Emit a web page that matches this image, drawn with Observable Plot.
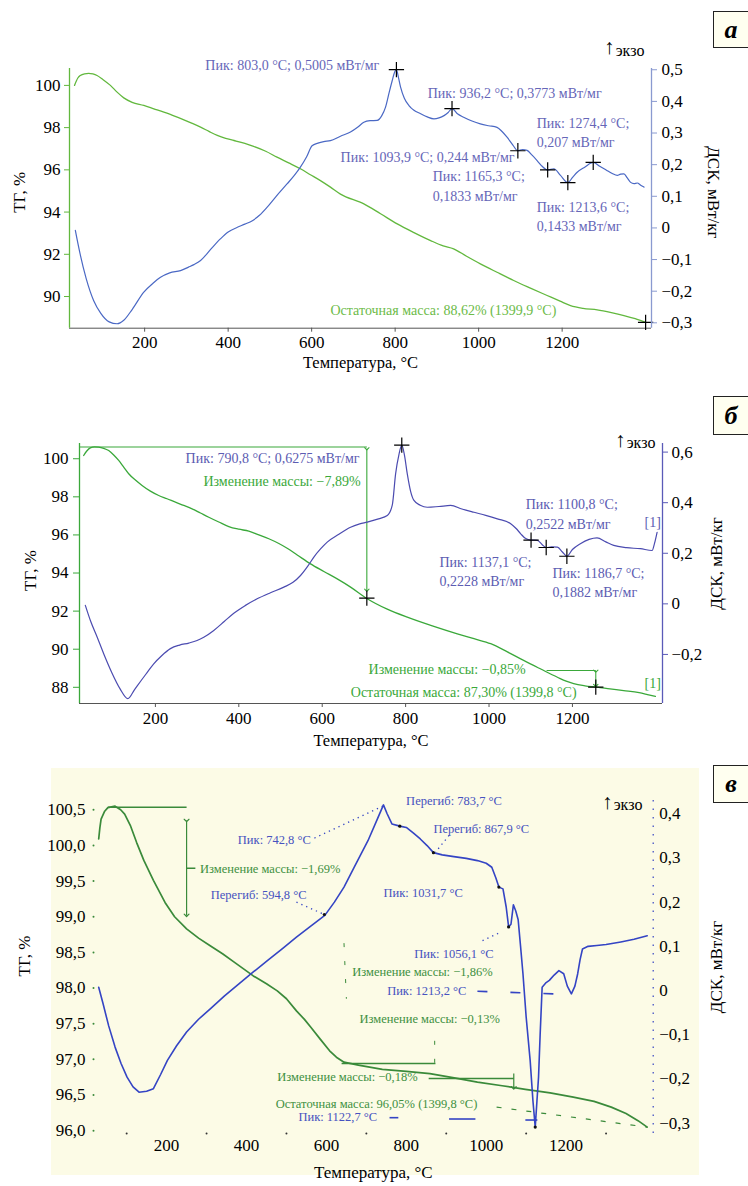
<!DOCTYPE html>
<html><head><meta charset="utf-8">
<script src="https://cdn.jsdelivr.net/npm/d3@7"></script>
<script src="https://cdn.jsdelivr.net/npm/@observablehq/plot@0.6"></script>
<style>
body{margin:0;background:#fff;}
#root{position:relative;width:748px;height:1186px;overflow:hidden;font-family:"Liberation Serif",serif;}
.box{position:absolute;border:1.3px solid #222;background:#fffff0;font:italic bold 26px "Liberation Serif",serif;display:flex;align-items:center;justify-content:center;box-sizing:border-box;padding-right:4px;}
.cream{position:absolute;background:#fcfbe6;}
</style></head><body><div id="root"></div>
<script>
// ---------- shared ticks ----------
const xTicks = [200, 400, 600, 800, 1000, 1200];
const xMinorC = [100, 300, 500, 700, 900, 1100, 1300];

// ---------- panel a ----------
const tgTA = [32,40,46,56,66,76,86,100,118,134,150,170,198,222,246,270,294,314,334,354,374,394,414,440,461,490,517,545,573,597,621,645,669,725,765,805,845,885,915,940,970,1004,1044,1084,1124,1164,1195,1220,1250,1284,1318,1348,1375,1399.9];
const tgVA = [100.0,100.35,100.47,100.55,100.57,100.54,100.47,100.28,100.0,99.68,99.41,99.2,99.05,98.89,98.73,98.56,98.37,98.2,98.02,97.82,97.63,97.49,97.39,97.25,97.11,96.88,96.6,96.33,96.05,95.77,95.49,95.18,94.85,94.39,93.92,93.44,93.03,92.65,92.4,92.26,91.92,91.55,91.15,90.76,90.4,90.05,89.78,89.57,89.44,89.37,89.24,89.1,88.95,88.78];
const dscTA = [34,45,60,78,95,115,134,150,170,198,220,238,260,286,305,318,334,358,382,400,422,440,458,475,493,515,541,558,573,588,601,615,629,645,669,693,710,725,740,757,768,777,786,793,798,803,808,813,822,833,845,861,877,893,905,917,927,936.2,950,964,984,1004,1024,1044,1056,1068,1082,1093.9,1105,1116,1128,1140,1152,1165.3,1180,1196,1213.6,1225,1236,1254,1274.4,1290,1308,1320,1332,1340,1348,1356,1364,1372,1380,1388,1396];
const dscVA = [-0.008,-0.08,-0.16,-0.23,-0.27,-0.297,-0.303,-0.292,-0.258,-0.203,-0.175,-0.156,-0.142,-0.135,-0.124,-0.116,-0.103,-0.068,-0.034,-0.013,0.002,0.012,0.023,0.04,0.065,0.1,0.139,0.165,0.192,0.225,0.26,0.268,0.273,0.276,0.29,0.303,0.318,0.334,0.339,0.34,0.355,0.382,0.43,0.466,0.49,0.5005,0.475,0.445,0.41,0.387,0.372,0.361,0.351,0.345,0.348,0.355,0.365,0.3773,0.36,0.35,0.338,0.329,0.323,0.318,0.305,0.287,0.262,0.244,0.248,0.245,0.23,0.213,0.195,0.1833,0.187,0.166,0.1433,0.16,0.176,0.192,0.207,0.195,0.181,0.172,0.166,0.17,0.171,0.158,0.144,0.14,0.142,0.135,0.129];
const peakTA = [803.0, 936.2, 1093.9, 1165.3, 1213.6, 1274.4];
const peakVA = [0.5005, 0.3773, 0.244, 0.1833, 0.1433, 0.207];
const tgTicksA = [90, 92, 94, 96, 98, 100];
const dscTicksA = [-0.3, -0.2, -0.1, 0, 0.1, 0.2, 0.3, 0.4, 0.5];

// ---------- panel б ----------
const tgTB = [28,36,44,54,64,76,88,100,112,124,136,152,168,188,208,228,248,268,288,308,328,352,376,400,424,448,472,496,516,540,572,604,636,668,708,756,804,864,924,964,1004,1044,1083,1124,1164,1185,1203,1230,1259,1290,1323,1360,1380,1399];
const tgVB = [100.17,100.42,100.57,100.62,100.61,100.55,100.43,100.2,99.91,99.56,99.21,98.88,98.6,98.3,98.07,97.9,97.72,97.55,97.37,97.15,96.93,96.68,96.44,96.3,96.2,96.0,95.8,95.55,95.3,94.95,94.48,94.08,93.69,93.26,92.65,92.1,91.68,91.23,90.81,90.55,90.29,89.86,89.41,88.96,88.53,88.32,88.19,88.08,88.01,87.92,87.83,87.72,87.62,87.52];
const dscTB = [32,45,60,76,95,115,134,150,165,180,196,215,236,258,280,300,316,340,365,388,415,444,476,508,530,548,565,580,596,612,640,668,690,708,735,756,768,776,784,790.8,797,804,812,820,835,852,880,908,935,964,992,1020,1052,1065,1076,1088,1100.8,1116,1127,1137.1,1150,1164,1176,1186.7,1200,1219,1240,1259,1280,1299,1330,1363,1391,1397,1403];
const dscVB = [-0.006,-0.07,-0.13,-0.197,-0.27,-0.335,-0.375,-0.339,-0.305,-0.272,-0.237,-0.205,-0.177,-0.163,-0.155,-0.145,-0.132,-0.105,-0.07,-0.037,-0.007,0.02,0.044,0.066,0.085,0.112,0.148,0.185,0.217,0.244,0.275,0.303,0.316,0.323,0.336,0.349,0.39,0.514,0.59,0.6275,0.59,0.514,0.445,0.409,0.39,0.382,0.385,0.389,0.375,0.362,0.35,0.336,0.317,0.298,0.277,0.258,0.2522,0.251,0.235,0.2228,0.225,0.224,0.205,0.1882,0.215,0.238,0.255,0.261,0.245,0.231,0.222,0.218,0.211,0.24,0.283];
const peakTB = [790.8, 1100.8, 1137.1, 1186.7];
const peakVB = [0.6275, 0.2522, 0.2228, 0.1882];
const tgMarkTB = [707, 1256];
const tgMarkVB = [92.68, 88.01];
const tgTicksB = [88, 90, 92, 94, 96, 98, 100];
const dscTicksB = [-0.2, 0, 0.2, 0.4, 0.6];

// ---------- panel в ----------
const tgTC = [30,33,36,45,53,71,85,95,110,125,143,167,196,220,250,280,310,340,370,417,450,477,500,525,545,561,585,608,625,644,680,740,800,859,920,978,1040,1098,1160,1218,1270,1313,1350,1380,1403];
const tgVC = [100.09,100.25,100.37,100.48,100.53,100.55,100.5,100.44,100.27,100.04,99.79,99.51,99.2,99.0,98.83,98.7,98.59,98.48,98.36,98.17,98.06,97.96,97.85,97.68,97.56,97.45,97.28,97.12,97.03,96.96,96.92,96.86,96.83,96.8,96.74,96.68,96.63,96.58,96.53,96.47,96.41,96.33,96.24,96.14,96.05];
const dscTC = [30,41,55,71,86,101,116,131,150,167,185,202,225,250,280,310,345,381,417,453,490,525,560,596,620,644,670,704,728,742.8,752,764,783.7,800,818,835,852,867.9,890,919,950,978,1000,1014,1024,1031.7,1042,1050,1056.1,1062,1068,1074,1080,1086,1092,1100,1110,1117,1122.7,1127,1131,1135,1140,1150,1158,1170,1182,1194,1203,1213.2,1222,1229,1235,1241,1255,1277,1300,1337,1370,1403];
const dscVC = [0.0075,-0.03,-0.08,-0.128,-0.165,-0.196,-0.218,-0.23,-0.228,-0.222,-0.19,-0.158,-0.125,-0.094,-0.065,-0.041,-0.012,0.015,0.042,0.068,0.095,0.121,0.145,0.17,0.2,0.234,0.28,0.339,0.389,0.42,0.4,0.377,0.372,0.369,0.356,0.343,0.328,0.312,0.307,0.303,0.299,0.294,0.288,0.279,0.255,0.234,0.23,0.189,0.144,0.15,0.194,0.18,0.16,0.1,0.038,-0.06,-0.158,-0.25,-0.309,-0.25,-0.196,-0.1,0.0075,0.018,0.023,0.035,0.045,0.038,0.01,-0.0075,0.01,0.038,0.07,0.094,0.1,0.102,0.104,0.11,0.116,0.124];
const markTC = [594.8, 783.7, 867.9, 1031.7, 1056.1, 1122.7];
const markVC = [0.172, 0.372, 0.312, 0.234, 0.144, -0.309];
const tgTicksC = [96.0, 96.5, 97.0, 97.5, 98.0, 98.5, 99.0, 99.5, 100.0, 100.5];
const dscTicksC = [-0.3, -0.2, -0.1, 0, 0.1, 0.2, 0.3, 0.4];

// ---------- helpers ----------
const SERIF = "'Liberation Serif','DejaVu Serif',serif";
const loc = d3.formatLocale({decimal: ",", thousands: "\u00a0", grouping: [3], currency: ["", ""], minus: "\u2212"});
const f1 = loc.format(".1f");
const fDsc = d => Math.abs(d) < 1e-9 ? "0" : f1(d);
const fInt = d3.format("d");
const root = document.getElementById("root");
function place(el, top) { el.style.position = "absolute"; el.style.left = "0px"; el.style.top = top + "px"; root.appendChild(el); }
function pts(T, V) { return T.map((t, i) => ({t, v: V[i]})); }
function texts(arr, fill, fontSize) {
  return ["start", "end"].map(a => Plot.text(arr.filter(d => (d.a || "start") === a),
    {x: "x", y: "y", text: "t", textAnchor: a, fill, fontSize}));
}
function title(str, opts) {
  return Plot.text([str], {text: d => d, textAnchor: "middle", fill: "black", fontSize: 17, ...opts});
}
function exo(x, y) {
  return [
    Plot.text([{x, y}], {x: "x", y: "y", text: () => "экзо", textAnchor: "end", fill: "black", fontSize: 16}),
    Plot.text([{x, y}], {x: "x", y: "y", text: () => "↑", textAnchor: "end", fill: "black", fontSize: 21, dx: -30, dy: -3, fontWeight: 300})
  ];
}
function box(letter, top, h) {
  const b = document.createElement("div"); b.className = "box"; b.textContent = letter;
  b.style.left = "713px"; b.style.top = top + "px"; b.style.width = "40px"; b.style.height = h + "px";
  root.appendChild(b);
}
function common(h, ml, mr, mt, mb) {
  return {width: 748, height: h, marginLeft: ml, marginRight: mr, marginTop: mt, marginBottom: mb,
    style: {background: "transparent", fontFamily: SERIF, fontSize: "17px", overflow: "visible", color: "black"}};
}
const TEMP = "Температура, °C";

// =============== PANEL A ===============
{
  const xD = [20, 1414], tgD = [88.5, 100.8], dD = [-0.317, 0.504];
  const G = "#62b83e", B = "#4a68c4", TB = "#6666b8", TG = "#6cbb48", RA = "#8a9ad0";
  const c = common(380, 69, 97, 68, 52.3);
  const tg = Plot.plot({...c, x: {domain: xD, label: null}, y: {domain: tgD, label: null}, marks: [
    Plot.ruleY([tgD[0]], {stroke: "#555"}),
    Plot.ruleX([xD[0]], {stroke: G, strokeWidth: 1.3}),
    Plot.axisX(xTicks, {tickSize: 4, tickPadding: 4, tickFormat: fInt, fontSize: 17, label: null, stroke: "#555", color: "black"}),
    Plot.axisY(tgTicksA, {tickSize: 5, tickPadding: 4, tickFormat: fInt, fontSize: 17, label: null, stroke: G, color: "black"}),
    Plot.line(pts(tgTA, tgVA), {x: "t", y: "v", stroke: G, strokeWidth: 1.3, curve: "monotone-x"}),
    Plot.dot([{t: 1399.9, v: 88.78}], {x: "t", y: "v", symbol: "plus", r: 5, stroke: "black", strokeWidth: 1.2}),
    ...texts([{t: "Остаточная масса: 88,62% (1399,9 °C)", x: 1186, y: 89.34, a: "end"}], TG, 14),
    title(TEMP, {frameAnchor: "bottom", dy: 40, fontSize: 16.5}),
    title("ТГ, %", {frameAnchor: "left", dx: -50, dy: -6, rotate: -90})
  ]});
  const ds = Plot.plot({...c, x: {domain: xD, axis: null}, y: {domain: dD, label: null}, marks: [
    Plot.ruleX([xD[1]], {stroke: RA, strokeWidth: 1.3}),
    Plot.axisY(dscTicksA, {anchor: "right", tickSize: 5, tickPadding: 5, tickFormat: fDsc, fontSize: 17, label: null, stroke: RA, color: "black"}),
    Plot.line(pts(dscTA, dscVA), {x: "t", y: "v", stroke: B, strokeWidth: 1.2, curve: "monotone-x"}),
    Plot.dot(pts(peakTA, peakVA), {x: "t", y: "v", symbol: "plus", r: 5, stroke: "black", strokeWidth: 1.2}),
    ...texts([
      {t: "Пик: 803,0 °C; 0,5005 мВт/мг", x: 762, y: 0.513, a: "end"},
      {t: "Пик: 936,2 °C; 0,3773 мВт/мг", x: 878, y: 0.425},
      {t: "Пик: 1274,4 °C;", x: 1139, y: 0.330},
      {t: "0,207 мВт/мг", x: 1139, y: 0.270},
      {t: "Пик: 1093,9 °C; 0,244 мВт/мг", x: 1086, y: 0.2226, a: "end"},
      {t: "Пик: 1165,3 °C;", x: 890, y: 0.1625},
      {t: "0,1833 мВт/мг", x: 890, y: 0.0993},
      {t: "Пик: 1213,6 °C;", x: 1139, y: 0.0645},
      {t: "0,1433 мВт/мг", x: 1139, y: 0.0044}
    ], TB, 14),
    ...exo(1397, 0.561),
    title("ДСК, мВт/кг", {frameAnchor: "right", dx: 62, dy: -6, rotate: 90})
  ]});
  place(tg, 0); place(ds, 0);
  box("а", 11, 37);
}

// =============== PANEL Б ===============
{
  const xD = [18, 1416], tgD = [87.15, 100.8], dD = [-0.394, 0.634];
  const G = "#3aa83a", B = "#4b4bb0", TB = "#5c5cb2", TG = "#3aa83a", RA = "#5a5ab8";
  const c = common(370, 79, 86, 53, 57);
  const tg = Plot.plot({...c, x: {domain: xD, label: null}, y: {domain: tgD, label: null}, marks: [
    Plot.ruleY([tgD[0]], {stroke: "#555"}),
    Plot.ruleX([xD[0]], {stroke: G, strokeWidth: 1.3}),
    Plot.axisX(xTicks, {tickSize: 4, tickPadding: 4, tickFormat: fInt, fontSize: 17, label: null, stroke: "#555", color: "black"}),
    Plot.axisY(tgTicksB, {tickSize: 6, tickPadding: 5, tickFormat: fInt, fontSize: 17, label: null, stroke: G, color: "black"}),
    Plot.line(pts(tgTB, tgVB), {x: "t", y: "v", stroke: G, strokeWidth: 1.3, curve: "monotone-x"}),
    Plot.link([{x1: xD[0], x2: 707, y: 100.62}, {x1: 1138, x2: 1256, y: 88.88}], {x1: "x1", x2: "x2", y1: "y", y2: "y", stroke: G, strokeWidth: 1.1}),
    Plot.link([{x: 707, y1: 100.52, y2: 93.1}, {x: 1256, y1: 88.85, y2: 88.1}], {x1: "x", x2: "x", y1: "y1", y2: "y2", stroke: G, strokeWidth: 1.1, markerStart: "arrow", markerEnd: "arrow"}),
    Plot.dot(pts(tgMarkTB, tgMarkVB), {x: "t", y: "v", symbol: "plus", r: 5, stroke: "black", strokeWidth: 1.2}),
    ...texts([
      {t: "Изменение массы: −7,89%", x: 692, y: 98.82, a: "end"},
      {t: "Изменение массы: −0,85%", x: 1088, y: 88.92, a: "end"},
      {t: "Остаточная масса: 87,30% (1399,8 °C)", x: 1210, y: 87.74, a: "end"},
      {t: "[1]", x: 1373, y: 88.19}
    ], TG, 14),
    title(TEMP, {frameAnchor: "bottom", dy: 42, fontSize: 16.5}),
    title("ТГ, %", {frameAnchor: "left", dx: -49, dy: -3, rotate: -90})
  ]});
  const ds = Plot.plot({...c, x: {domain: xD, axis: null}, y: {domain: dD, label: null}, marks: [
    Plot.ruleX([xD[1]], {stroke: RA, strokeWidth: 1.3}),
    Plot.axisY(dscTicksB, {anchor: "right", tickSize: 5, tickPadding: 4, tickFormat: fDsc, fontSize: 17, label: null, stroke: RA, color: "black"}),
    Plot.line(pts(dscTB, dscVB), {x: "t", y: "v", stroke: B, strokeWidth: 1.2, curve: "monotone-x"}),
    Plot.dot(pts(peakTB, peakVB), {x: "t", y: "v", symbol: "plus", r: 5, stroke: "black", strokeWidth: 1.2}),
    ...texts([
      {t: "Пик: 790,8 °C; 0,6275 мВт/мг", x: 689.5, y: 0.574, a: "end"},
      {t: "Пик: 1100,8 °C;", x: 1088, y: 0.392},
      {t: "0,2522 мВт/мг", x: 1088, y: 0.314},
      {t: "[1]", x: 1373, y: 0.323},
      {t: "Пик: 1137,1 °C;", x: 881, y: 0.165},
      {t: "0,2228 мВт/мг", x: 881, y: 0.090},
      {t: "Пик: 1186,7 °C;", x: 1152, y: 0.119},
      {t: "0,1882 мВт/мг", x: 1152, y: 0.044}
    ], TB, 14),
    ...exo(1399, 0.635),
    title("ДСК, мВт/кг", {frameAnchor: "right", dx: 54, dy: -10, rotate: -90})
  ]});
  place(tg, 390); place(ds, 390);
  box("б", 396, 39);
}

// =============== PANEL В ===============
{
  const cream = document.createElement("div"); cream.className = "cream";
  cream.style.left = "51px"; cream.style.top = "768px"; cream.style.width = "648px"; cream.style.height = "407px";
  root.appendChild(cream);
  const xD = [17, 1418], tgD = [95.96, 100.63], dD = [-0.3235, 0.43];
  const G = "#3a8a3a", B = "#3444c4", TB = "#4652c0", TG = "#40903f";
  const c = common(426, 93, 95.3, 40, 53);
  const tg = Plot.plot({...c, x: {domain: xD, label: null}, y: {domain: tgD, label: null}, marks: [
    Plot.axisX(xTicks, {tickSize: 0, tickPadding: 5, tickFormat: fInt, fontSize: 17, label: null, color: "black"}),
    Plot.dot(xMinorC, {x: d => d, y: () => tgD[0], r: 1, fill: "#333", stroke: null}),
    Plot.axisY(tgTicksC, {tickSize: 0, tickPadding: 8, tickFormat: f1, fontSize: 17, label: null, color: "black"}),
    Plot.dot(tgTicksC, {x: () => xD[0], y: d => d, r: 1, fill: G, stroke: null}),
    Plot.line(pts(tgTC, tgVC), {x: "t", y: "v", stroke: G, strokeWidth: 1.7}),
    Plot.link([{x1: 53, x2: 250, y1: 100.536, y2: 100.536}, {x1: 250, x2: 272, y1: 99.68, y2: 99.68},
               {x1: 638, x2: 873, y1: 96.94, y2: 96.94}, {x1: 856, x2: 1069, y1: 96.73, y2: 96.73}],
      {x1: "x1", x2: "x2", y1: "y1", y2: "y2", stroke: G, strokeWidth: 1.5}),
    Plot.link([{x: 250, y1: 100.35, y2: 99.02}], {x1: "x", x2: "x", y1: "y1", y2: "y2", stroke: G, strokeWidth: 1.2, markerStart: "arrow", markerEnd: "arrow"}),
    Plot.link([{x: 1069, y1: 96.8, y2: 96.6}], {x1: "x", x2: "x", y1: "y1", y2: "y2", stroke: G, strokeWidth: 1.2, markerEnd: "arrow"}),
    Plot.link([{x1: 871, x2: 871, y1: 97.26, y2: 96.95}, {x1: 644, x2: 650, y1: 98.63, y2: 97.85}],
      {x1: "x1", x2: "x2", y1: "y1", y2: "y2", stroke: G, strokeWidth: 1, strokeDasharray: "4,14"}),
    Plot.link([{x1: 1026, x2: 1403, y1: 96.33, y2: 96.05}], {x1: "x1", x2: "x2", y1: "y1", y2: "y2", stroke: G, strokeWidth: 1.2, strokeDasharray: "5,10"}),
    ...texts([
      {t: "Изменение массы: −1,69%", x: 283.6, y: 99.67},
      {t: "Изменение массы: −1,86%", x: 664.6, y: 98.23},
      {t: "Изменение массы: −0,13%", x: 683, y: 97.56},
      {t: "Изменение массы: −0,18%", x: 477, y: 96.75},
      {t: "Остаточная масса: 96,05% (1399,8 °C)", x: 473, y: 96.37}
    ], TG, 12.5),
    title(TEMP, {frameAnchor: "bottom", dy: 44}),
    title("ТГ, %", {frameAnchor: "left", dx: -69, dy: -11, rotate: -90})
  ]});
  const ds = Plot.plot({...c, x: {domain: xD, axis: null}, y: {domain: dD, label: null}, marks: [
    Plot.ruleX([xD[1]], {stroke: B, strokeWidth: 1.2, strokeDasharray: "1.5,7"}),
    Plot.axisY(dscTicksC, {anchor: "right", tickSize: 0, tickPadding: 6, tickFormat: fDsc, fontSize: 17, label: null, color: "black"}),
    Plot.line(pts(dscTC, dscVC), {x: "t", y: "v", stroke: B, strokeWidth: 1.6}),
    Plot.dot(pts(markTC, markVC), {x: "t", y: "v", r: 1.6, fill: "#111", stroke: null}),
    Plot.link([{x1: 570, y1: 0.345, x2: 742.8, y2: 0.418}, {x1: 907, y1: 0.351, x2: 873, y2: 0.313},
               {x1: 525, y1: 0.20, x2: 594.8, y2: 0.172}, {x1: 990.7, y1: 0.113, x2: 1032, y2: 0.13}],
      {x1: "x1", x2: "x2", y1: "y1", y2: "y2", stroke: B, strokeWidth: 1.3, strokeDasharray: "1.3,4"}),
    Plot.link([{x1: 978, y1: -0.0016, x2: 1169, y2: -0.0075}], {x1: "x1", x2: "x2", y1: "y1", y2: "y2", stroke: B, strokeWidth: 1.6, strokeDasharray: "10,23"}),
    Plot.link([{x1: 758, x2: 780, y: -0.2877}, {x1: 907, x2: 973, y: -0.2907}, {x1: 1098, x2: 1128, y: -0.293}],
      {x1: "x1", x2: "x2", y1: "y", y2: "y", stroke: B, strokeWidth: 1.6}),
    ...texts([
      {t: "Перегиб: 783,7 °C", x: 799.5, y: 0.43},
      {t: "Пик: 742,8 °C", x: 561, y: 0.341, a: "end"},
      {t: "Перегиб: 867,9 °C", x: 868, y: 0.366},
      {t: "Перегиб: 594,8 °C", x: 310.6, y: 0.2166},
      {t: "Пик: 1031,7 °C", x: 743, y: 0.221},
      {t: "Пик: 1056,1 °C", x: 820, y: 0.083},
      {t: "Пик: 1213,2 °C", x: 752, y: 0.0},
      {t: "Пик: 1122,7 °C", x: 530, y: -0.2868}
    ], TB, 12.5),
    ...exo(1391, 0.419),
    title("ДСК, мВт/кг", {frameAnchor: "right", dx: 63, dy: 0, rotate: -90})
  ]});
  place(tg, 760); place(ds, 760);
  box("в", 765, 38);
}
</script>
</body></html>
